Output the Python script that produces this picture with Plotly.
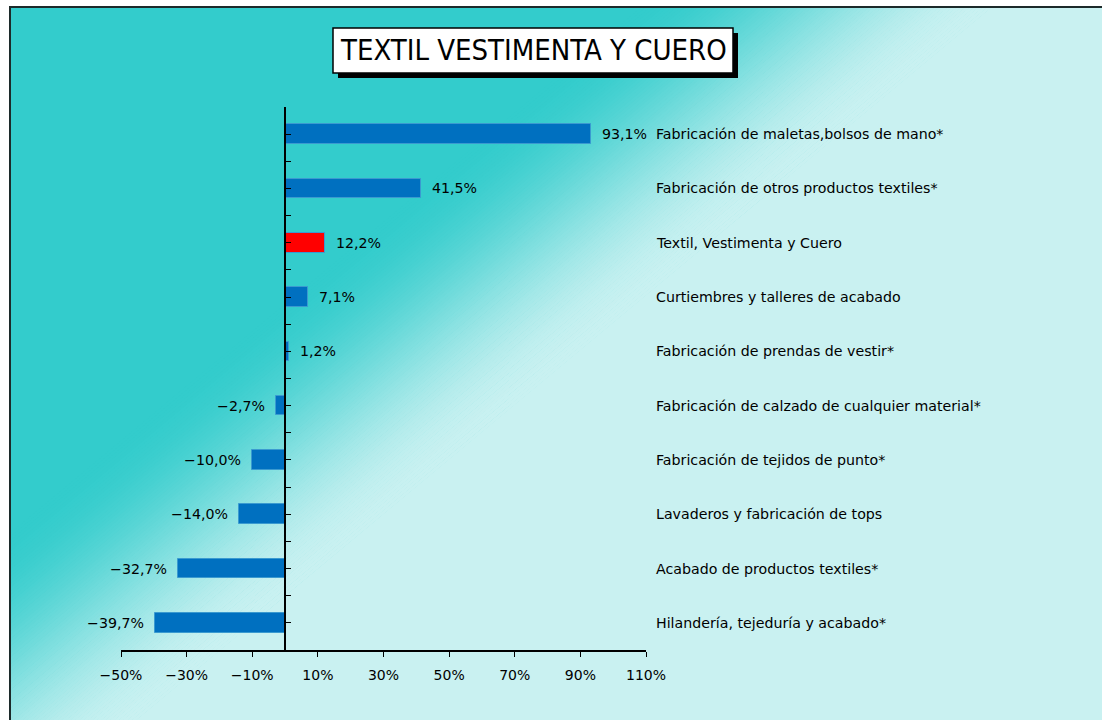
import plotly.graph_objects as go

# ---------------- data ----------------
categories = [
    "Fabricación de maletas,bolsos de mano*",
    "Fabricación de otros productos textiles*",
    "Textil, Vestimenta y Cuero",
    "Curtiembres y talleres de acabado",
    "Fabricación de prendas de vestir*",
    "Fabricación de calzado de cualquier material*",
    "Fabricación de tejidos de punto*",
    "Lavaderos y fabricación de tops",
    "Acabado de productos textiles*",
    "Hilandería, tejeduría y acabado*",
]
values = [93.1, 41.5, 12.2, 7.1, 1.2, -2.7, -10.0, -14.0, -32.7, -39.7]
highlight = "Textil, Vestimenta y Cuero"
x_ticks = [-50, -30, -10, 10, 30, 50, 70, 90, 110]
title_text = "TEXTIL VESTIMENTA Y CUERO"

# ---------------- layout geometry (page pixels) ----------------
W, H = 1102, 720
L, R, T, B = 121, 646, 107, 650  # plot area in page pixels
PW, PH = R - L, B - T


def px(x):
    return (x - L) / PW


def py(y):
    return (B - y) / PH


TEAL = (51, 204, 204)
LIGHT = (201, 241, 241)
FONT = "DejaVu Sans"
FS = 14.2

n = len(categories)
idx = list(range(n))
colors = ["#FF0000" if c == highlight else "#0070C0" for c in categories]

fig = go.Figure()
fig.add_trace(go.Bar(
    x=values, y=idx, orientation="h", width=0.36,
    marker=dict(color=colors, line=dict(color="#3A9AD0", width=1)),
    hoverinfo="skip", showlegend=False,
))

# ---------------- background gradient (decoration) ----------------
shapes = []
shapes.append(dict(type="rect", xref="paper", yref="paper",
                   x0=px(9), x1=px(1200), y0=py(6), y1=py(800),
                   line=dict(width=0), fillcolor="rgb(%d,%d,%d)" % TEAL, layer="below"))
k = 1.2
s0, s1 = 650.0, 1000.0
nb = 80
y0, y1 = 6, 760


def col(t):
    t = max(0.0, min(1.0, t))
    t = t * t * (3 - 2 * t)
    c = [round(a + (b - a) * t) for a, b in zip(TEAL, LIGHT)]
    return "rgb(%d,%d,%d)" % tuple(c)


def band(sa, sb, fill):
    pts = [(sa - k * y0, y0), (sb - k * y0, y0), (sb - k * y1, y1), (sa - k * y1, y1)]
    path = "M " + " L ".join("%.5f,%.5f" % (px(a), py(b)) for a, b in pts) + " Z"
    return dict(type="path", xref="paper", yref="paper", path=path,
                fillcolor=fill, line=dict(width=0), layer="below")


for i in range(nb):
    sa = s0 + (s1 - s0) * i / nb
    sb = s0 + (s1 - s0) * (i + 1) / nb + 0.8
    shapes.append(band(sa, sb, col((i + 0.5) / nb)))
shapes.append(band(s1, 6000, col(1)))
# white page margin left of / above the chart area
shapes.append(dict(type="rect", xref="paper", yref="paper",
                   x0=px(-50), x1=px(9), y0=py(-50), y1=py(800),
                   line=dict(width=0), fillcolor="white", layer="below"))
shapes.append(dict(type="rect", xref="paper", yref="paper",
                   x0=px(-50), x1=px(1200), y0=py(-50), y1=py(6),
                   line=dict(width=0), fillcolor="white", layer="below"))

# outer border
shapes.append(dict(type="rect", xref="paper", yref="paper",
                   x0=px(10), x1=px(1200), y0=py(7), y1=py(800),
                   line=dict(color="#1C2A2A", width=2), fillcolor="rgba(0,0,0,0)", layer="above"))
# title box with shadow
shapes.append(dict(type="rect", xref="paper", yref="paper",
                   x0=px(338), x1=px(738), y0=py(33), y1=py(78),
                   line=dict(width=0), fillcolor="black", layer="above"))
shapes.append(dict(type="rect", xref="paper", yref="paper",
                   x0=px(333), x1=px(733), y0=py(28), y1=py(73),
                   line=dict(color="black", width=1.5), fillcolor="white", layer="above"))

annotations = []
annotations.append(dict(
    text=title_text, xref="paper", yref="paper", x=px(533), y=py(50.5),
    xanchor="center", yanchor="middle", showarrow=False,
    font=dict(family="DejaVu Sans Condensed", size=29, color="black"),
))

for i, (c, v) in enumerate(zip(categories, values)):
    # category labels on the right
    annotations.append(dict(
        text=c, xref="paper", yref="y", x=1, y=i, xanchor="left", yanchor="middle",
        xshift=8, showarrow=False, font=dict(family=FONT, size=FS, color="black"),
    ))
    # value labels next to bars
    lab = ("%.1f" % abs(v)).replace(".", ",") + "%"
    if v < 0:
        lab = "\u2212" + lab
    annotations.append(dict(
        text=lab, xref="x", yref="y", x=v, y=i,
        xanchor="left" if v >= 0 else "right", yanchor="middle",
        xshift=9 if v >= 0 else -9, showarrow=False,
        font=dict(family=FONT, size=FS, color="black"),
    ))

ytickvals = [i * 0.5 - 0.5 for i in range(2 * n + 1)]
xticktext = [("\u2212" if v < 0 else "") + "%d%%" % abs(v) for v in x_ticks]

fig.update_layout(
    width=W, height=H,
    margin=dict(l=L, r=W - R, t=T, b=H - B, pad=0),
    paper_bgcolor="white",
    plot_bgcolor="rgba(0,0,0,0)",
    separators=",.",
    bargap=0,
    shapes=shapes,
    annotations=annotations,
    font=dict(family=FONT, size=FS, color="black"),
    xaxis=dict(
        range=[-50, 110], tickvals=x_ticks, ticktext=xticktext,
        showgrid=False, zeroline=False, showline=True, linecolor="black", linewidth=1.5,
        ticks="outside", ticklen=5, tickwidth=1.2, tickcolor="black",
        tickfont=dict(family=FONT, size=14, color="black"),
        ticklabelstandoff=6, fixedrange=True,
    ),
    yaxis=dict(
        range=[n - 0.5, -0.5], tickvals=ytickvals, showticklabels=False,
        showgrid=False, zeroline=False, showline=True, linecolor="black", linewidth=1.5,
        ticks="inside", ticklen=5, tickwidth=1.2, tickcolor="black",
        anchor="free", position=50 / 160, fixedrange=True,
    ),
)

fig.write_html(
    "out.html",
    config={"displayModeBar": False},
    post_script="document.body.style.margin='0';document.body.style.overflow='hidden';",
)
